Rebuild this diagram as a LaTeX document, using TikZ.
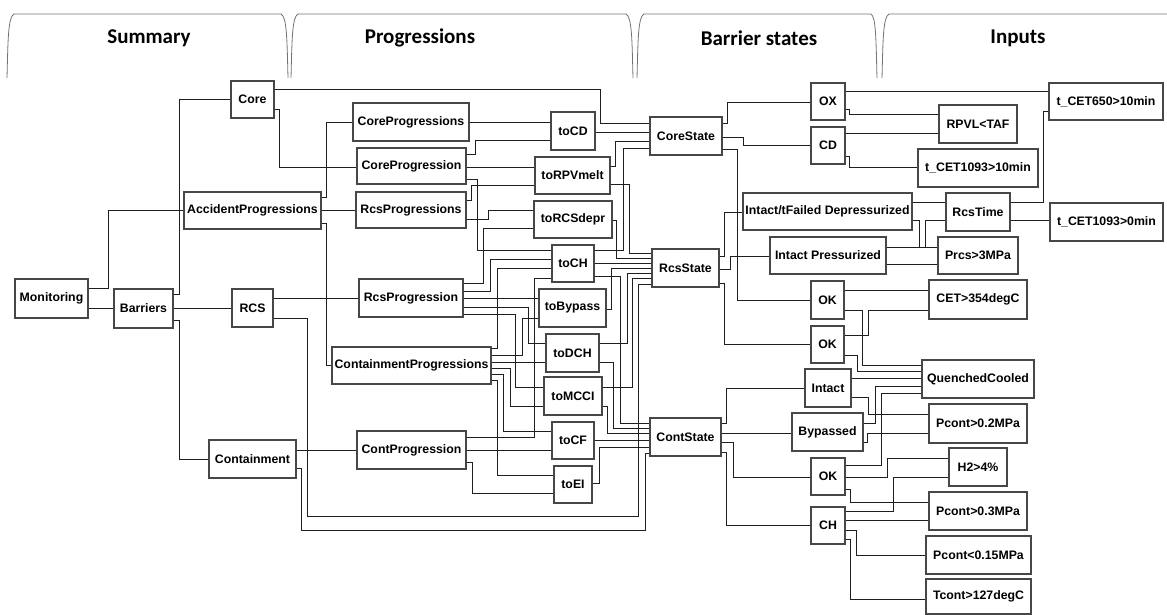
\documentclass[tikz,border=0pt]{standalone}
\usepackage{fontspec}
\newfontfamily\nodefont{Liberation Sans}
\newfontfamily\headfont{Carlito}
\begin{document}
\begin{tikzpicture}[x=1pt,y=-1pt,
  box/.style={draw=black!72, line width=1.2pt, fill=white, inner sep=0.5pt,
    font=\nodefont\bfseries\fontsize{12.3}{14}\selectfont},
  wire/.style={draw=black!88, line width=1pt},
  tab/.style={draw=black!55, line width=0.8pt},
  head/.style={font=\headfont\bfseries\fontsize{21}{24}\selectfont, inner sep=0pt}]
\useasboundingbox (0,0) rectangle (1167,614);
% header tabs
\draw[tab] (7,78) .. controls (8,40) and (8,17) .. (14,14) -- (281,14) .. controls (287,17) and (287,40) .. (288,78);
\draw[tab] (291,78) .. controls (292,40) and (292,17) .. (298,14) -- (626,14) .. controls (632,17) and (632,40) .. (633,78);
\draw[tab] (637,78) .. controls (638,40) and (638,17) .. (644,14) -- (871,14) .. controls (876,17) and (876,40) .. (877,78);
\draw[tab] (882,78) .. controls (883,40) and (883,17) .. (889,14) -- (1167,14);
\node[head] (hSum) at (149,38) {Summary};
\node[head] (hProg) at (420,38) {Progressions};
\node[head] (hBar) at (759,38) {Barrier states};
\node[head] (hIn) at (1018,38) {Inputs};
% Summary column
\node[box, minimum width=73, minimum height=39] (Mon) at (51.5,298.5) {Monitoring};
\node[box, minimum width=59, minimum height=39] (Bar) at (143.5,308.5) {Barriers};
\node[box, minimum width=43, minimum height=37] (Core) at (252.5,99.5) {Core};
\node[box, minimum width=137, minimum height=37] (AP) at (252.5,210.5) {AccidentProgressions};
\node[box, minimum width=41, minimum height=38] (RCS) at (252.5,308) {RCS};
\node[box, minimum width=87, minimum height=38] (Cont) at (252.5,459) {Containment};
% Progressions
\node[box, minimum width=116, minimum height=38] (CorePs) at (411,122) {CoreProgressions};
\node[box, minimum width=109, minimum height=36] (CoreP) at (411.5,166) {CoreProgression};
\node[box, minimum width=110, minimum height=36] (RcsPs) at (411,210) {RcsProgressions};
\node[box, minimum width=104, minimum height=38] (RcsP) at (411,298) {RcsProgression};
\node[box, minimum width=159, minimum height=37] (ContPs) at (411.5,365.5) {ContainmentProgressions};
\node[box, minimum width=109, minimum height=38] (ContP) at (411.5,450) {ContProgression};
\node[box, minimum width=44, minimum height=38] (toCD) at (573,131) {toCD};
\node[box, minimum width=75, minimum height=37] (toRPV) at (572.5,175.5) {toRPVmelt};
\node[box, minimum width=78, minimum height=37] (toRCS) at (573,219.5) {toRCSdepr};
\node[box, minimum width=42, minimum height=37] (toCH) at (573,263.5) {toCH};
\node[box, minimum width=67, minimum height=38] (toBy) at (572.5,308) {toBypass};
\node[box, minimum width=53, minimum height=38] (toDCH) at (572.5,353) {toDCH};
\node[box, minimum width=58, minimum height=38] (toMCCI) at (573,396) {toMCCI};
\node[box, minimum width=42, minimum height=37] (toCF) at (573,440.5) {toCF};
\node[box, minimum width=38, minimum height=37] (toEI) at (573,484.5) {toEI};
% Barrier states
\node[box, minimum width=72, minimum height=38] (CoreState) at (686,136) {CoreState};
\node[box, minimum width=67, minimum height=38] (RcsState) at (685.5,268) {RcsState};
\node[box, minimum width=71, minimum height=38] (ContState) at (685.5,437) {ContState};
\node[box, minimum width=34, minimum height=37] (OX) at (828,101.5) {OX};
\node[box, minimum width=34, minimum height=37] (CD) at (828,145.5) {CD};
\node[box, minimum width=169, minimum height=37] (IFD) at (827.5,211.5) {Intact/tFailed Depressurized};
\node[box, minimum width=116, minimum height=37] (IP) at (828,255.5) {Intact Pressurized};
\node[box, minimum width=33, minimum height=38] (OK1) at (827.5,300) {OK};
\node[box, minimum width=33, minimum height=37] (OK2) at (827.5,344.5) {OK};
\node[box, minimum width=46, minimum height=38] (Intact) at (828,388) {Intact};
\node[box, minimum width=71, minimum height=38] (Byp) at (827.5,432) {Bypassed};
\node[box, minimum width=34, minimum height=37] (OK3) at (828,476.5) {OK};
\node[box, minimum width=34, minimum height=37] (CH) at (828,525.5) {CH};
% Inputs
\node[box, minimum width=114, minimum height=37] (tA) at (1106,101.5) {t\_CET650>10min};
\node[box, minimum width=78, minimum height=38] (RPVL) at (978,124) {RPVL<TAF};
\node[box, minimum width=120, minimum height=38] (tB) at (978,168) {t\_CET1093>10min};
\node[box, minimum width=64, minimum height=38] (RcsTime) at (978,212) {RcsTime};
\node[box, minimum width=113, minimum height=38] (tC) at (1106.5,222) {t\_CET1093>0min};
\node[box, minimum width=80, minimum height=37] (Prcs) at (978,255.5) {Prcs>3MPa};
\node[box, minimum width=98, minimum height=39] (CET) at (978,299.5) {CET>354degC};
\node[box, minimum width=112, minimum height=38] (QC) at (978,379) {QuenchedCooled};
\node[box, minimum width=98, minimum height=39] (Pa) at (978,423.5) {Pcont>0.2MPa};
\node[box, minimum width=58, minimum height=38] (H2) at (978,467) {H2>4\%};
\node[box, minimum width=98, minimum height=38] (Pb) at (978,511) {Pcont>0.3MPa};
\node[box, minimum width=105, minimum height=38] (Pc) at (978.5,555) {Pcont<0.15MPa};
\node[box, minimum width=105, minimum height=35] (Tc) at (978.5,596.5) {Tcont>127degC};
% ---- Summary wires
\draw[wire] (Mon.east |- 0,288) -- (108,288) |- (AP.west);
\draw[wire] (Mon.east |- 0,308) -- (Bar.west |- 0,308);
\draw[wire] (Bar.east |- 0,294) -- (179,294) |- (Core.west |- 0,99);
\draw[wire] (Bar.east |- 0,308) -- (RCS.west |- 0,308);
\draw[wire] (Bar.east |- 0,320) -- (179,320) |- (Cont.west);
\draw[wire] (Core.east |- 0,109) -- (279,109) |- (CoreP.west |- 0,167);
\draw[wire] (AP.east |- 0,197) -- (326,197) |- (CorePs.west |- 0,122);
\draw[wire] (AP.east) -- (RcsPs.west |- AP.east);
\draw[wire] (AP.east |- 0,223) -- (326,223) |- (ContPs.west |- 0,365);
\draw[wire] (RCS.east |- 0,298) -- (RcsP.west |- 0,298);
\draw[wire] (Cont.east |- 0,450) -- (ContP.west |- 0,450);
\draw[wire] (Core.east |- 0,89) -- (600,89) |- (CoreState.west |- 0,123);
\draw[wire] (RCS.east |- 0,318) -- (307,318) |- (638,516) |- (RcsState.west |- 0,284);
\draw[wire] (Cont.east |- 0,468) -- (301,468) |- (645,530) |- (ContState.west |- 0,453);
% ---- Progressions to "to" nodes
\draw[wire] (CorePs.east |- 0,122) -- (toCD.west |- 0,122);
\draw[wire] (CoreP.east |- 0,154) -- (475,154) |- (toCD.west |- 0,140);
\draw[wire] (CoreP.east |- 0,167) -- (toRPV.west |- 0,167);
\draw[wire] (CoreP.east |- 0,179) -- (477,179) |- (toCH.west |- 0,250);
\draw[wire] (RcsPs.east |- 0,200) -- (471,200) |- (toRPV.west |- 0,185);
\draw[wire] (RcsPs.east |- 0,219) -- (488,219) |- (toRCS.west |- 0,210);
\draw[wire] (RcsP.east |- 0,283) -- (483,283) |- (toRCS.west |- 0,228);
\draw[wire] (RcsP.east |- 0,291) -- (490,291) |- (toCH.west |- 0,259);
\draw[wire] (RcsP.east |- 0,298) -- (toBy.west |- 0,298);
\draw[wire] (RcsP.east |- 0,307) -- (528,307) |- (toDCH.west |- 0,343);
\draw[wire] (RcsP.east |- 0,314) -- (515,314) |- (toMCCI.west |- 0,387);
\draw[wire] (ContPs.east |- 0,348) -- (497,348) |- (toCH.west |- 0,268);
\draw[wire] (ContPs.east |- 0,355) -- (522,355) |- (toBy.west |- 0,318);
\draw[wire] (ContPs.east |- 0,362) -- (toDCH.west |- 0,362);
\draw[wire] (ContPs.east |- 0,368) -- (510,368) |- (toMCCI.west |- 0,406);
\draw[wire] (ContPs.east |- 0,374) -- (503,374) |- (toCF.west |- 0,431);
\draw[wire] (ContPs.east |- 0,380) -- (497,380) |- (toEI.west |- 0,475);
\draw[wire] (ContP.east |- 0,437) -- (534,437) |- (toCH.west |- 0,278);
\draw[wire] (ContP.east |- 0,450) -- (toCF.west |- 0,450);
\draw[wire] (ContP.east |- 0,462) -- (472,462) |- (toEI.west |- 0,493);
% ---- "to" nodes to states
\draw[wire] (toCD.east |- 0,132) -- (CoreState.west |- 0,132);
\draw[wire] (toRPV.east |- 0,166) -- (615,166) |- (CoreState.west |- 0,141);
\draw[wire] (toCH.east |- 0,250) -- (623,250) |- (CoreState.west |- 0,148);
\draw[wire] (toRPV.east |- 0,184) -- (629,184) |- (RcsState.west |- 0,253);
\draw[wire] (toRCS.east |- 0,220) -- (616,220) |- (RcsState.west |- 0,258);
\draw[wire] (toCH.east |- 0,263) -- (RcsState.west |- 0,263);
\draw[wire] (toBy.east |- 0,309) -- (611,309) |- (RcsState.west |- 0,268);
\draw[wire] (toDCH.east |- 0,343) -- (627,343) |- (RcsState.west |- 0,273);
\draw[wire] (toMCCI.east |- 0,387) -- (632,387) |- (RcsState.west |- 0,278);
\draw[wire] (toCH.east |- 0,276) -- (620,276) |- (ContState.west |- 0,423);
\draw[wire] (toDCH.east |- 0,362) -- (613,362) |- (ContState.west |- 0,428);
\draw[wire] (toMCCI.east |- 0,406) -- (607,406) |- (ContState.west |- 0,433);
\draw[wire] (toCF.east |- 0,440) -- (ContState.west |- 0,440);
\draw[wire] (toEI.east |- 0,483) -- (599,483) |- (ContState.west |- 0,447);
% ---- states to barrier states
\draw[wire] (CoreState.east |- 0,123) -- (727,123) |- (OX.west |- 0,102);
\draw[wire] (CoreState.east |- 0,137) -- (743,137) |- (CD.west |- 0,145);
\draw[wire] (CoreState.east |- 0,149) -- (737,149) |- (OK1.west |- 0,300);
\draw[wire] (RcsState.east |- 0,256) -- (724,256) |- (IFD.west |- 0,212);
\draw[wire] (RcsState.east |- 0,269) -- (730,269) |- (IP.west |- 0,256);
\draw[wire] (RcsState.east |- 0,283) -- (724,283) |- (OK2.west |- 0,344);
\draw[wire] (ContState.east |- 0,423) -- (726,423) |- (Intact.west |- 0,388);
\draw[wire] (ContState.east |- 0,433) -- (Byp.west |- 0,433);
\draw[wire] (ContState.east |- 0,442) -- (733,442) |- (OK3.west |- 0,477);
\draw[wire] (ContState.east |- 0,452) -- (726,452) |- (CH.west |- 0,525);
% ---- barrier states to inputs
\draw[wire] (OX.east |- 0,91) -- (tA.west |- 0,91);
\draw[wire] (OX.east |- 0,109) -- (849,109) |- (RPVL.west |- 0,114);
\draw[wire] (CD.east |- 0,133) -- (RPVL.west |- 0,133);
\draw[wire] (CD.east |- 0,156) -- (849,156) |- (tB.west |- 0,167);
\draw[wire] (IFD.east |- 0,202) -- (RcsTime.west |- 0,202);
\draw[wire] (RcsTime.east |- 0,202) -- (1043,202) |- (tA.west |- 0,111);
\draw[wire] (RcsTime.east |- 0,220) -- (tC.west |- 0,220);
\draw[wire] (IFD.east |- 0,220) -- (919,220) |- (Prcs.west |- 0,247);
\draw[wire] (RcsTime.west |- 0,220) -| (925,247);
\draw[wire] (IP.east |- 0,247) -- (Prcs.west |- 0,247);
\draw[wire] (IP.east |- 0,264) -- (Prcs.west |- 0,264);
\draw[wire] (OK1.east |- 0,290) -- (CET.west |- 0,290);
\draw[wire] (OK1.east |- 0,310) -- (862,310) |- (QC.west |- 0,365);
\draw[wire] (CET.west |- 0,310) -- (868,310) |- (OK2.east |- 0,335);
\draw[wire] (OK2.east |- 0,355) -- (857,355) |- (QC.west |- 0,371);
\draw[wire] (Intact.east |- 0,378) -- (QC.west |- 0,378);
\draw[wire] (Intact.east |- 0,397) -- (868,397) |- (Pa.west |- 0,414);
\draw[wire] (Byp.east |- 0,423) -- (875,423) |- (QC.west |- 0,386);
\draw[wire] (Byp.east |- 0,442) -- (867,442) |- (Pa.west |- 0,433);
\draw[wire] (OK3.east |- 0,465) -- (881,465) |- (QC.west |- 0,393);
\draw[wire] (OK3.east |- 0,477) -- (887,477) |- (H2.west |- 0,458);
\draw[wire] (OK3.east |- 0,489) -- (850,489) |- (Pb.west |- 0,502);
\draw[wire] (CH.east |- 0,511) -- (893,511) |- (H2.west |- 0,477);
\draw[wire] (CH.east |- 0,520) -- (Pb.west |- 0,520);
\draw[wire] (CH.east |- 0,530) -- (856,530) |- (Pc.west |- 0,555);
\draw[wire] (CH.east |- 0,539) -- (850,539) |- (Tc.west |- 0,599);
\end{tikzpicture}
\end{document}
